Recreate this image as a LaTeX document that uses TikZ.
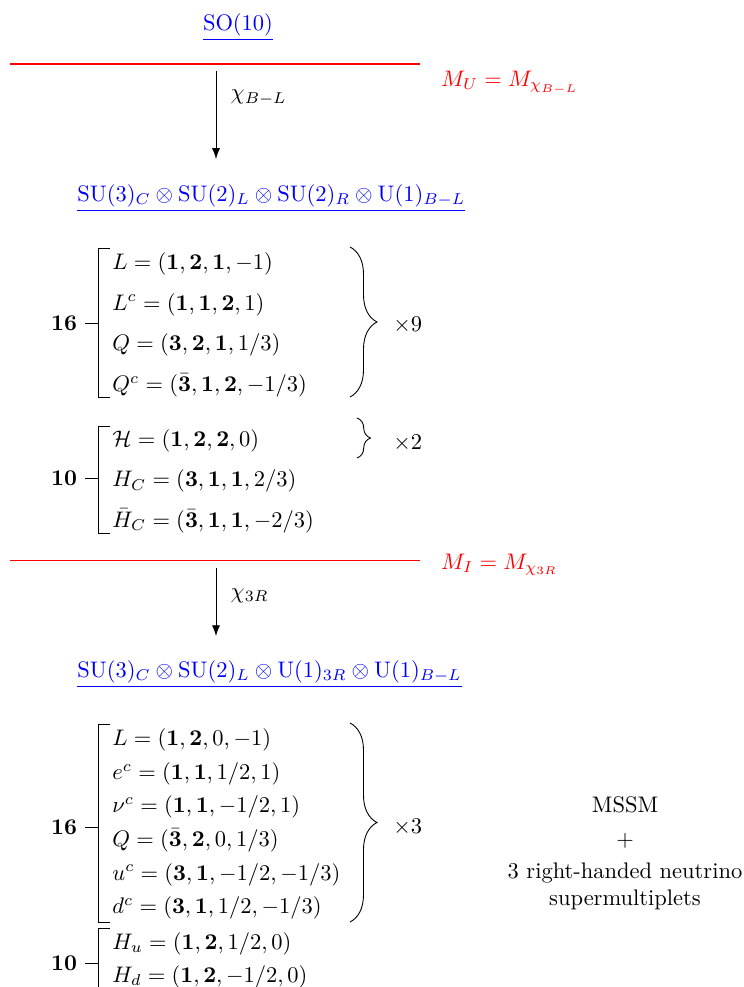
\documentclass[tikz,border=0pt]{standalone}
\usepackage{amsmath,amssymb}
\usetikzlibrary{arrows.meta,decorations.pathreplacing}

\begin{document}
\begin{tikzpicture}[
    >={Latex},
    flow/.style={->, line width=0.4pt},
    cut/.style={red, line width=0.5pt},
    mass/.style={red, anchor=base west, inner sep=0pt},
    grp/.style={blue, anchor=base west, inner sep=0pt},
    field/.style={anchor=base west, inner sep=0pt},
    rep/.style={anchor=east},
    mult/.style={anchor=west, inner sep=0pt},
    brk/.style={draw=black, line width=0.4pt},
    curly/.style={draw=black, line width=0.4pt, decorate,
                  decoration={brace, amplitude=#1}},
  ]
  \useasboundingbox (0,0) rectangle (11.606,-15.417);

  %% ---------------- SO(10) ----------------
  \node[grp, anchor=base] (so10) at (3.718,-0.480) {$\underline{\mathrm{SO}(10)}$};

  \coordinate (u-l) at (0.156,-1.000);
  \coordinate (u-r) at (6.561,-1.000);
  \draw[cut] (u-l) -- (u-r);
  \node[mass] (mu) at (6.885,-1.351) {$M_U = M_{\chi_{B-L}}$};

  \coordinate (a1) at (3.374,-1.109);
  \coordinate (b1) at (3.374,-2.484);
  \draw[flow] (a1) -- (b1) node[pos=0.3, right=3pt] (chi1) {$\chi_{B-L}$};

  %% ---------------- left-right group ----------------
  \node[grp] (g1) at (1.203,-3.147)
    {$\underline{\mathrm{SU}(3)_C\otimes\mathrm{SU}(2)_L\otimes\mathrm{SU}(2)_R\otimes\mathrm{U}(1)_{B-L}}$};

  % 16 of the first stage
  \foreach \t [count=\i from 0] in {%
      {$L = (\mathbf{1},\mathbf{2},\mathbf{1},-1)$},
      {$L^c = (\mathbf{1},\mathbf{1},\mathbf{2},1)$},
      {$Q = (\mathbf{3},\mathbf{2},\mathbf{1},1/3)$},
      {$Q^c = (\bar{\mathbf{3}},\mathbf{1},\mathbf{2},-1/3)$}} {
    \node[field] (f16a-\i) at (1.749,{-4.211-0.633*\i}) {\t};
  }
  \draw[brk] (1.718,-3.874) -| (1.531,-6.201) -- (1.718,-6.201);
  \node[rep] (n16a) at (1.328,-5.045) {$\mathbf{16}$};
  \coordinate (k16a) at (1.531,-5.045);
  \draw[brk] (n16a.east) -- (k16a);
  \draw[curly=12pt] (5.467,-3.858) -- (5.467,-6.201);
  \node[mult] (x9) at (6.139,-5.077) {$\times 9$};

  % 10 of the first stage
  \foreach \t [count=\i from 0] in {%
      {$\mathcal{H} = (\mathbf{1},\mathbf{2},\mathbf{2},0)$},
      {$H_C = (\mathbf{3},\mathbf{1},\mathbf{1},2/3)$},
      {$\bar{H}_C = (\bar{\mathbf{3}},\mathbf{1},\mathbf{1},-2/3)$}} {
    \node[field] (f10a-\i) at (1.749,{-6.976-0.628*\i}) {\t};
  }
  \draw[brk] (1.718,-6.654) -| (1.531,-8.326) -- (1.718,-8.326);
  \node[rep] (n10a) at (1.328,-7.466) {$\mathbf{10}$};
  \coordinate (k10a) at (1.531,-7.466);
  \draw[brk] (n10a.east) -- (k10a);
  \draw[curly=6pt] (5.576,-6.529) -- (5.576,-7.154);
  \node[mult] (x2) at (6.139,-6.920) {$\times 2$};

  %% ---------------- intermediate scale ----------------
  \coordinate (i-l) at (0.156,-8.755);
  \coordinate (i-r) at (6.561,-8.755);
  \draw[cut] (i-l) -- (i-r);
  \node[mass] (mi) at (6.885,-8.893) {$M_I = M_{\chi_{3R}}$};

  \coordinate (a2) at (3.374,-8.877);
  \coordinate (b2) at (3.374,-9.935);
  \draw[flow] (a2) -- (b2) node[pos=0.4, right=3pt] (chi2) {$\chi_{3R}$};

  %% ---------------- 3R group ----------------
  \node[grp] (g2) at (1.203,-10.578)
    {$\underline{\mathrm{SU}(3)_C\otimes\mathrm{SU}(2)_L\otimes\mathrm{U}(1)_{3R}\otimes\mathrm{U}(1)_{B-L}}$};

  % 16 of the second stage
  \foreach \t [count=\i from 0] in {%
      {$L = (\mathbf{1},\mathbf{2},0,-1)$},
      {$e^c = (\mathbf{1},\mathbf{1},1/2,1)$},
      {$\nu^c = (\mathbf{1},\mathbf{1},-1/2,1)$},
      {$Q = (\bar{\mathbf{3}},\mathbf{2},0,1/3)$},
      {$u^c = (\mathbf{3},\mathbf{1},-1/2,-1/3)$},
      {$d^c = (\mathbf{3},\mathbf{1},1/2,-1/3)$}} {
    \node[field] (f16b-\i) at (1.749,{-11.646-0.525*\i}) {\t};
  }
  \draw[brk] (1.718,-11.309) -| (1.531,-14.402) -- (1.718,-14.402);
  \node[rep] (n16b) at (1.328,-12.918) {$\mathbf{16}$};
  \coordinate (k16b) at (1.531,-12.918);
  \draw[brk] (n16b.east) -- (k16b);
  \draw[curly=12pt] (5.467,-11.293) -- (5.467,-14.402);
  \node[mult] (x3) at (6.139,-12.918) {$\times 3$};

  % 10 of the second stage
  \foreach \t [count=\i from 0] in {%
      {$H_u = (\mathbf{1},\mathbf{2},1/2,0)$},
      {$H_d = (\mathbf{1},\mathbf{2},-1/2,0)$}} {
    \node[field] (f10b-\i) at (1.749,{-14.833-0.515*\i}) {\t};
  }
  \draw[brk] (1.718,-14.496) -| (1.531,-15.417);
  \node[rep] (n10b) at (1.328,-15.042) {$\mathbf{10}$};
  \coordinate (k10b) at (1.531,-15.042);
  \draw[brk] (n10b.east) -- (k10b);

  \node[align=center] (mssm) at (9.763,-13.324)
    {MSSM\\[3.5pt] $+$\\[2pt] 3 right-handed neutrino\\ supermultiplets};

\end{tikzpicture}
\end{document}
